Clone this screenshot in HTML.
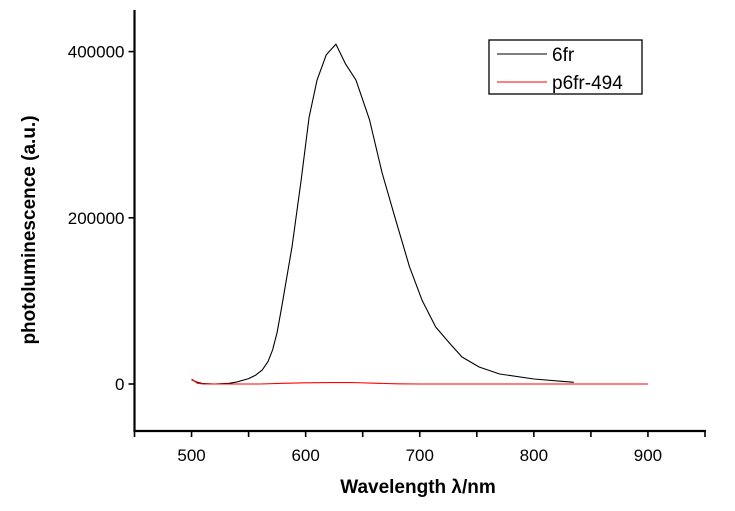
<!DOCTYPE html>
<html><head><meta charset="utf-8"><style>
body{margin:0;background:#fff;}
svg text{font-family:"Liberation Sans",Arial,sans-serif;}
</style></head><body>
<svg id="chart" width="735" height="506" viewBox="0 0 735 506" xmlns="http://www.w3.org/2000/svg">
<g id="axes"></g>
<g id="series"></g>
<g>
<rect x="489" y="40" width="153" height="54" fill="#fff" stroke="#000" stroke-width="1.3"/>
<line x1="497" y1="54" x2="547" y2="54" stroke="#000" stroke-width="1"/>
<text x="552" y="61" font-size="19">6fr</text>
<line x1="497" y1="82" x2="547" y2="82" stroke="#f00" stroke-width="1"/>
<text x="552" y="89" font-size="19">p6fr-494</text>
</g>
<text x="418" y="493" font-size="19" font-weight="bold" text-anchor="middle">Wavelength λ/nm</text>
<text transform="translate(35,230) rotate(-90)" font-size="19" font-weight="bold" text-anchor="middle">photoluminescence (a.u.)</text>
</svg>
<script>
const wl6fr = [500,505,510,520,533,540,550,556,562,567,571,575,579,588,596,603,610,618,626.5,635,644,656,667,679,691,702,714,726,737,752,770,800,835];
const val6fr = [5000,2000,500,0,800,2500,6500,10500,17000,27000,41000,62000,92600,165000,245000,321000,366000,396000,409000,385000,366000,318000,254000,197000,141000,101000,68600,49300,32500,20500,12000,6000,2000];
const wlP = [500,505,510,560,580,600,620,640,660,680,700,900];
const valP = [6000,1000,0,0,800,1500,1700,1800,1000,300,0,0];
const xTicks = [450,500,550,600,650,700,750,800,850,900,950];
const xLabels = ["500","600","700","800","900"];
const yLabels = ["0","200000","400000"];

const X0=134.5, XPX=1.141, XMIN=450;
const Y0=384, YPX=0.000831;
function sx(v){return X0+(v-XMIN)*XPX;}
function sy(v){return Y0-v*YPX;}
const NS="http://www.w3.org/2000/svg";
const axesG=document.getElementById('axes'), seriesG=document.getElementById('series');
function mk(tag,attrs,parent){const e=document.createElementNS(NS,tag);for(const k in attrs)e.setAttribute(k,attrs[k]);parent.appendChild(e);return e;}
const yBottom=431, yTop=10;
let el=mk('line',{x1:X0,y1:yTop,x2:X0,y2:yBottom+1,stroke:'#000','stroke-width':2.2},axesG);


el=mk('line',{x1:X0-1,y1:yBottom,x2:sx(950)+1,y2:yBottom,stroke:'#000','stroke-width':2.2},axesG);


xTicks.forEach(t=>{
  const l=mk('line',{x1:sx(t),y1:yBottom,x2:sx(t),y2:yBottom+6,stroke:'#000','stroke-width':1.6},axesG);
  
  
});
xLabels.forEach(s=>{
  const t=mk('text',{x:sx(+s),y:461,'font-size':17,'text-anchor':'middle'},axesG);
  t.textContent=s;
  
  
});
yLabels.forEach(s=>{
  const y=sy(+s);
  const l=mk('line',{x1:X0-6,y1:y,x2:X0,y2:y,stroke:'#000','stroke-width':1.6},axesG);
  
  
  const t=mk('text',{x:X0-10,y:y+6,'font-size':17,'text-anchor':'end'},axesG);
  t.textContent=s;
  
  
});
function drawLine(wl,val,color,name){
  const d=wl.map((w,i)=>(i?'L':'M')+sx(w).toFixed(1)+','+sy(val[i]).toFixed(1)).join('');
  const p=mk('path',{d:d,fill:'none',stroke:color,'stroke-width':1.1,'stroke-linejoin':'round'},seriesG);
  
  
}
drawLine(wl6fr,val6fr,'#000','series-6fr');
drawLine(wlP,valP,'#f00','series-p6fr-494');
</script>
</body></html>
